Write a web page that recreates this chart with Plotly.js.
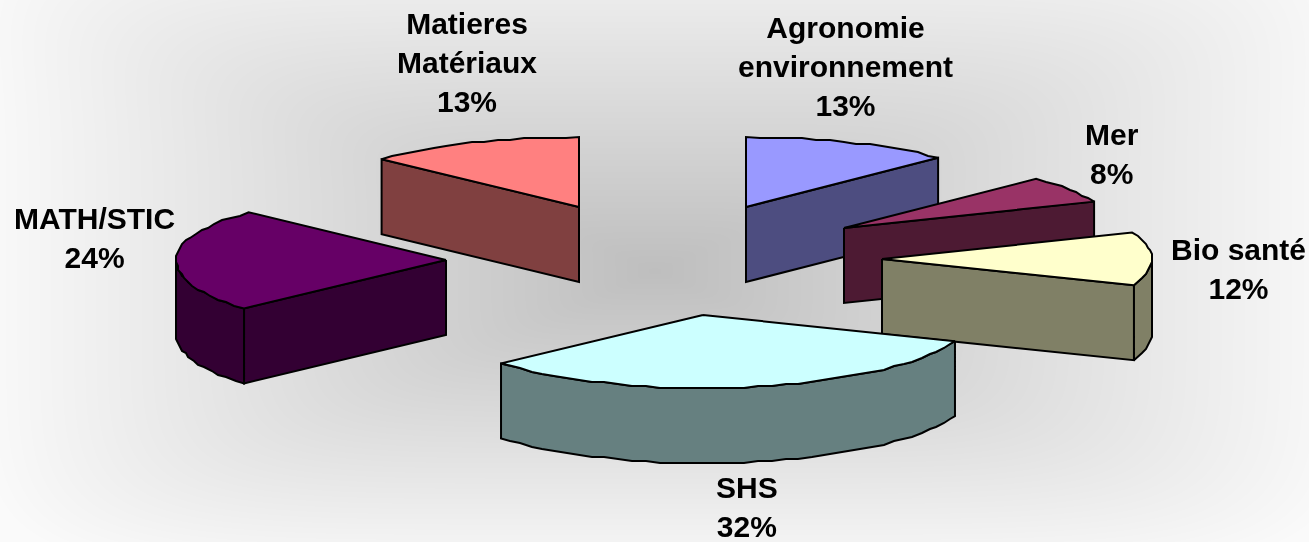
<!DOCTYPE html>
<html>
<head>
<meta charset="utf-8">
<script src="https://cdn.plot.ly/plotly-3.0.1.min.js"></script>
<style>
html,body{margin:0;padding:0;width:1309px;height:542px;overflow:hidden;background:#fff}
#bg,#chart{position:absolute;top:0;left:0;width:1309px;height:542px}
</style>
</head>
<body>
<canvas id="bg" width="1309" height="542"></canvas>
<div id="chart"></div>
<script>
// ---- data ----
var categories   = ["Agronomie<br>environnement", "Mer", "Bio santé", "SHS", "MATH/STIC", "Matieres<br>Matériaux"];
var labelPercent = [13, 8, 12, 32, 24, 13];
// drawn share of the circle, as measured on the picture
var drawnShare   = [12.6, 6.25, 12.0, 32.6, 23.5, 13.05];
var topColors    = ["#9999FF", "#993366", "#FFFFCC", "#CCFFFF", "#660066", "#FF8080"];
var sideColors   = ["#4D4D80", "#4D1A33", "#808066", "#668080", "#330033", "#804040"];

// ---- backdrop: soft rectangular gradient, grey in the middle ----
(function () {
  var cv = document.getElementById("bg"), g = cv.getContext("2d");
  var W = cv.width, H = cv.height, img = g.createImageData(W, H), d = img.data;
  var cx = W / 2, cy = H / 2, mid = 190, p = 6;
  var left = 248, right = 246, top = 235, bottom = 243;
  for (var y = 0; y < H; y++) {
    for (var x = 0; x < W; x++) {
      var dx = Math.abs(x - cx) / cx, dy = Math.abs(y - cy) / cy;
      var px = Math.pow(dx, p), py = Math.pow(dy, p), s = px + py;
      var ex = (x < cx ? left : right) - mid, ey = (y < cy ? top : bottom) - mid;
      var amp = s > 0 ? (px * ex + py * ey) / s : ex;
      var t = Math.pow(s, 1 / p);
      var v = Math.min(250, mid + t * amp), k = (y * W + x) * 4;
      d[k] = d[k + 1] = d[k + 2] = v; d[k + 3] = 255;
    }
  }
  g.putImageData(img, 0, 0);
})();

// ---- 3-D pie geometry ----
var RX = 270, RY_BACK = 70, RY_FRONT = 73, DEPTH = 75;
var apexX = [746, 844, 882, 703, 446, 579];
var apexY = [207, 228, 259, 315, 260, 207];
var labelX = [845, 1112, 1238, 747, 94, 467];
var labelY = [66, 154, 269, 507, 238, 62];
var drawOrder = [0, 5, 1, 4, 2, 3];

var total = drawnShare.reduce(function (a, b) { return a + b; }, 0);
var starts = [], cum = 0;
drawnShare.forEach(function (v) { starts.push(cum); cum += v / total * 360; });

function rim(i, deg) {
  var r = deg * Math.PI / 180, c = Math.cos(r);
  return [apexX[i] + RX * Math.sin(r), apexY[i] - (c > 0 ? RY_BACK : RY_FRONT) * c];
}
function arc(i, a, b) {
  var pts = [], n = Math.max(1, Math.round((b - a) / 3));
  for (var k = 0; k <= n; k++) {
    var p = rim(i, a + (b - a) * k / n);
    if (k > 0 && k < n) { p = [Math.round(p[0] / 2) * 2, Math.round(p[1] / 2) * 2]; }
    pts.push(p);
  }
  return pts;
}
function poly(pts, fill, name) {
  return {
    type: "scatter", mode: "lines", name: name,
    x: pts.map(function (p) { return p[0]; }).concat([pts[0][0]]),
    y: pts.map(function (p) { return p[1]; }).concat([pts[0][1]]),
    fill: "toself", fillcolor: fill,
    line: { color: "#000000", width: 2 },
    hoverinfo: "skip", showlegend: false
  };
}
function down(p) { return [p[0], p[1] + DEPTH]; }

var traces = [];
drawOrder.forEach(function (i) {
  var t0 = starts[i], t1 = t0 + drawnShare[i] / total * 360;
  var apex = [apexX[i], apexY[i]], name = categories[i].replace("<br>", " ");
  if (t0 > 180) {
    var a = rim(i, t0);
    traces.push(poly([apex, a, down(a), down(apex)], sideColors[i], name + " side"));
  }
  if (t1 < 180) {
    var b = rim(i, t1);
    traces.push(poly([apex, b, down(b), down(apex)], sideColors[i], name + " side"));
  }
  var f0 = Math.max(t0, 90), f1 = Math.min(t1, 270);
  if (f1 > f0) {
    var rimPts = arc(i, f0, f1);
    traces.push(poly(rimPts.concat(rimPts.map(down).reverse()), sideColors[i], name + " rim"));
  }
  traces.push(poly([apex].concat(arc(i, t0, t1)), topColors[i], name));
});

var annotations = categories.map(function (c, i) {
  return {
    xref: "x", yref: "y", x: labelX[i], y: labelY[i],
    text: c + "<br>" + labelPercent[i] + "%",
    showarrow: false, xanchor: "center", yanchor: "middle", align: "center",
    font: { family: "Liberation Sans, Arial, sans-serif", size: 30, color: "#000000", weight: 700 }
  };
});

Plotly.newPlot("chart", traces, {
  width: 1309, height: 542,
  margin: { l: 0, r: 0, t: 0, b: 0 },
  paper_bgcolor: "rgba(0,0,0,0)", plot_bgcolor: "rgba(0,0,0,0)",
  xaxis: { range: [0, 1309], visible: false, fixedrange: true },
  yaxis: { range: [542, 0], visible: false, fixedrange: true },
  showlegend: false,
  annotations: annotations
}, { displayModeBar: false, staticPlot: true });
</script>
</body>
</html>
